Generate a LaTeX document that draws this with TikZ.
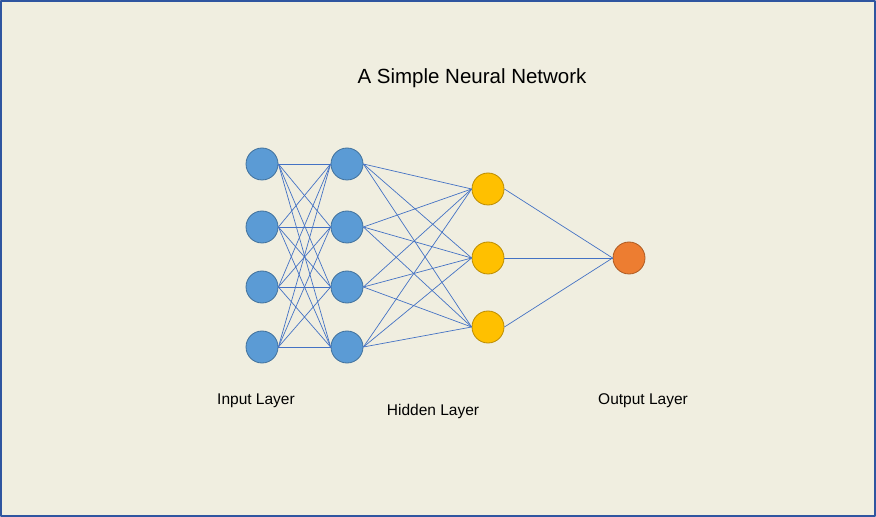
\documentclass[tikz,border=0pt]{standalone}
\usepackage{fontspec}
\setmainfont{Liberation Sans}
\definecolor{bgcol}{HTML}{F0EEE0}
\definecolor{framecol}{HTML}{2F55A0}
\definecolor{edgecol}{HTML}{4472C4}
\definecolor{bluefill}{HTML}{5B9BD5}
\definecolor{bluedraw}{HTML}{41719C}
\definecolor{goldfill}{HTML}{FFC000}
\definecolor{golddraw}{HTML}{BC8C00}
\definecolor{orangefill}{HTML}{ED7D31}
\definecolor{orangedraw}{HTML}{AE5A21}
\tikzset{
  neuron/.style={circle,minimum size=32bp,inner sep=0pt,line width=0.8bp},
  inneuron/.style={neuron,fill=bluefill,draw=bluedraw},
  hidneuron/.style={neuron,fill=goldfill,draw=golddraw},
  outneuron/.style={neuron,fill=orangefill,draw=orangedraw},
  synapse/.style={draw=edgecol,line width=0.7bp},
  caption/.style={font=\fontsize{15.5bp}{18bp}\selectfont}
}
\begin{document}
\begin{tikzpicture}[x=1bp,y=-1bp,line join=bevel]
  \useasboundingbox (0,0) rectangle (876,517);
%%
  % Frame
  \fill [bgcol] (0,0) rectangle (876,517);
  \draw [framecol,line width=2bp] (1,1) rectangle (875,516);
  % Title
  \node (title) at (472,78) {\fontsize{20.5bp}{24bp}\selectfont A Simple Neural Network};
  % Node: input layer
  \node [inneuron] (i1) at (262,164) {};
  \node [inneuron] (i2) at (262,227) {};
  \node [inneuron] (i3) at (262,287) {};
  \node [inneuron] (i4) at (262,347) {};
  % Node: second layer
  \node [inneuron] (m1) at (347,164) {};
  \node [inneuron] (m2) at (347,227) {};
  \node [inneuron] (m3) at (347,287) {};
  \node [inneuron] (m4) at (347,347) {};
  % Node: hidden layer
  \node [hidneuron] (h1) at (488,189) {};
  \node [hidneuron] (h2) at (488,258) {};
  \node [hidneuron] (h3) at (488,327) {};
  % Node: output layer
  \node [outneuron] (o1) at (629,258) {};
  % Edge: i1 -> m*
  \draw [synapse] (i1.east) -- (m1.west);
  \draw [synapse] (i1.east) -- (m2.west);
  \draw [synapse] (i1.east) -- (m3.west);
  \draw [synapse] (i1.east) -- (m4.west);
  % Edge: i2 -> m*
  \draw [synapse] (i2.east) -- (m1.west);
  \draw [synapse] (i2.east) -- (m2.west);
  \draw [synapse] (i2.east) -- (m3.west);
  \draw [synapse] (i2.east) -- (m4.west);
  % Edge: i3 -> m*
  \draw [synapse] (i3.east) -- (m1.west);
  \draw [synapse] (i3.east) -- (m2.west);
  \draw [synapse] (i3.east) -- (m3.west);
  \draw [synapse] (i3.east) -- (m4.west);
  % Edge: i4 -> m*
  \draw [synapse] (i4.east) -- (m1.west);
  \draw [synapse] (i4.east) -- (m2.west);
  \draw [synapse] (i4.east) -- (m3.west);
  \draw [synapse] (i4.east) -- (m4.west);
  % Edge: m* -> h*
  \draw [synapse] (m1.east) -- (h1.west);
  \draw [synapse] (m1.east) -- (h2.west);
  \draw [synapse] (m1.east) -- (h3.west);
  \draw [synapse] (m2.east) -- (h1.west);
  \draw [synapse] (m2.east) -- (h2.west);
  \draw [synapse] (m2.east) -- (h3.west);
  \draw [synapse] (m3.east) -- (h1.west);
  \draw [synapse] (m3.east) -- (h2.west);
  \draw [synapse] (m3.east) -- (h3.west);
  \draw [synapse] (m4.east) -- (h1.west);
  \draw [synapse] (m4.east) -- (h2.west);
  \draw [synapse] (m4.east) -- (h3.west);
  % Edge: h* -> o1
  \draw [synapse] (h1.east) -- (o1.west);
  \draw [synapse] (h2.east) -- (o1.west);
  \draw [synapse] (h3.east) -- (o1.west);
  % Labels
  \node [caption] (inlabel) at (256,401) {Input Layer};
  \node [caption] (hidlabel) at (433,411) {Hidden Layer};
  \node [caption] (outlabel) at (643,401) {Output Layer};
%
\end{tikzpicture}
\end{document}
